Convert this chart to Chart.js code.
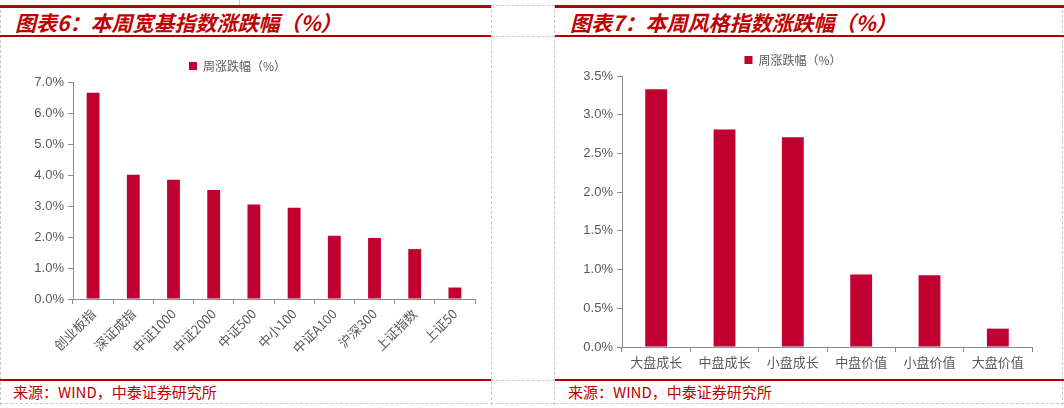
<!DOCTYPE html>
<html>
<head>
<meta charset="utf-8">
<script src="https://cdn.jsdelivr.net/npm/chart.js@4.4.1/dist/chart.umd.min.js"></script>
<style>
  html, body { margin: 0; padding: 0; background: #fff; }
  body { width: 1064px; height: 408px; position: relative; overflow: hidden; font-family: 'Noto Sans CJK SC', sans-serif; }
  .abs { position: absolute; }
  .redTop { height: 3px; background: #b50000; top: 5px; }
  .redMid { height: 2px; background: #b50000; top: 35px; }
  .redBot { height: 2px; background: #b50000; top: 379px; }
  .title { top: 7px; font-size: 21px; font-weight: bold; font-style: italic; color: #c00000; white-space: nowrap; letter-spacing: 0; }
  .source { top: 381px; font-size: 15px; color: #c00000; white-space: nowrap; }
  .dashV { width: 0; border-left: 1px dashed #c8c8c8; }
  .dashH { height: 0; border-top: 1px dashed #c8c8c8; }
</style>
</head>
<body>
<!-- frame -->
<div class="abs dashV" style="left:0;top:5px;height:400px"></div>
<div class="abs dashV" style="left:491px;top:5px;height:400px"></div>
<div class="abs dashV" style="left:554px;top:5px;height:400px"></div>
<div class="abs dashV" style="left:1062px;top:5px;height:400px"></div>
<div class="abs dashH" style="left:491px;top:5px;width:64px"></div>
<div class="abs dashH" style="left:491px;top:36px;width:64px"></div>
<div class="abs dashH" style="left:491px;top:380px;width:64px"></div>
<div class="abs dashH" style="left:0;top:403px;width:1064px"></div>
<div class="abs" style="left:239px;top:0;width:1px;height:5px;background:#c8c8c8"></div>

<div class="abs redTop" style="left:0;width:491px"></div>
<div class="abs redMid" style="left:0;width:491px"></div>
<div class="abs redBot" style="left:0;width:491px"></div>
<div class="abs title" style="left:15px">图表6：本周宽基指数涨跌幅（%）</div>
<div class="abs source" style="left:13px">来源：WIND，中泰证券研究所</div>

<div class="abs redTop" style="left:555px;width:509px"></div>
<div class="abs redMid" style="left:555px;width:509px"></div>
<div class="abs redBot" style="left:555px;width:509px"></div>
<div class="abs title" style="left:570px">图表7：本周风格指数涨跌幅（%）</div>
<div class="abs source" style="left:568px">来源：WIND，中泰证券研究所</div>

<div class="abs" style="left:0;top:44px;width:491px;height:336px"><canvas id="chartBroad"></canvas></div>
<div class="abs" style="left:554px;top:44px;width:510px;height:336px"><canvas id="chartStyle"></canvas></div>

<script>
// 宽基指数
const broadLabels = ['创业板指', '深证成指', '中证1000', '中证2000', '中证500', '中小100', '中证A100', '沪深300', '上证指数', '上证50'];
const broadValues = [6.65, 4.01, 3.85, 3.52, 3.05, 2.94, 2.04, 1.97, 1.61, 0.37];
const broadTicks = [0, 1, 2, 3, 4, 5, 6, 7];

// 风格指数
const styleLabels = ['大盘成长', '中盘成长', '小盘成长', '中盘价值', '小盘价值', '大盘价值'];
const styleValues = [3.33, 2.81, 2.71, 0.935, 0.927, 0.237];
const styleTicks = [0, 0.5, 1, 1.5, 2, 2.5, 3, 3.5];

const seriesName = '周涨跌幅（%）';
const barColor = '#c00030';
const axisColor = '#8c8c8c';
const textColor = '#595959';
const fontFamily = "'Liberation Sans', 'Noto Sans CJK SC', sans-serif";

function makeChart(id, labels, values, ticks, opt) {
    const ctx = document.getElementById(id).getContext('2d');
    return new Chart(ctx, {
        type: 'bar',
        data: {
            labels: labels,
            datasets: [{
                label: seriesName,
                data: values,
                backgroundColor: barColor,
                borderWidth: 0,
                barPercentage: 0.32,
                categoryPercentage: 1
            }]
        },
        options: {
            responsive: true,
            maintainAspectRatio: false,
            animation: false,
            layout: { padding: opt.padding },
            plugins: {
                legend: {
                    display: true,
                    position: 'top',
                    labels: {
                        boxWidth: 8,
                        boxHeight: 8,
                        padding: 6,
                        color: textColor,
                        font: { size: 12, family: "'Noto Sans CJK SC', sans-serif" }
                    }
                },
                tooltip: { enabled: false }
            },
            scales: {
                x: {
                    grid: { display: true, drawOnChartArea: false, drawTicks: true, tickLength: 5, color: axisColor, offset: true },
                    border: { color: axisColor, width: 1 },
                    ticks: {
                        color: textColor,
                        autoSkip: false,
                        maxRotation: opt.rotation,
                        minRotation: opt.rotation,
                        padding: 2,
                        font: { size: 13, family: "'Noto Sans CJK SC', sans-serif" }
                    },
                    afterFit: function(axis) { axis.height = opt.xHeight; }
                },
                y: {
                    min: ticks[0],
                    max: ticks[ticks.length - 1],
                    afterBuildTicks: function(axis) {
                        axis.ticks = ticks.map(v => ({ value: v }));
                    },
                    grid: { display: true, drawOnChartArea: false, drawTicks: true, tickLength: 5, color: axisColor },
                    border: { color: axisColor, width: 1 },
                    ticks: {
                        color: textColor,
                        padding: 4,
                        font: { size: 13, family: fontFamily },
                        callback: function(value) {
                            return Number(value).toFixed(1) + '%';
                        }
                    },
                    afterFit: function(axis) { axis.width = opt.yWidth; }
                }
            }
        }
    });
}

makeChart('chartBroad', broadLabels, broadValues, broadTicks, {
    padding: { top: 10, right: 16, bottom: 0, left: 0 },
    rotation: 45,
    xHeight: 81,
    yWidth: 73
});

makeChart('chartStyle', styleLabels, styleValues, styleTicks, {
    padding: { top: 4, right: 32, bottom: 0, left: 0 },
    rotation: 0,
    xHeight: 33,
    yWidth: 68
});
</script>
</body>
</html>
